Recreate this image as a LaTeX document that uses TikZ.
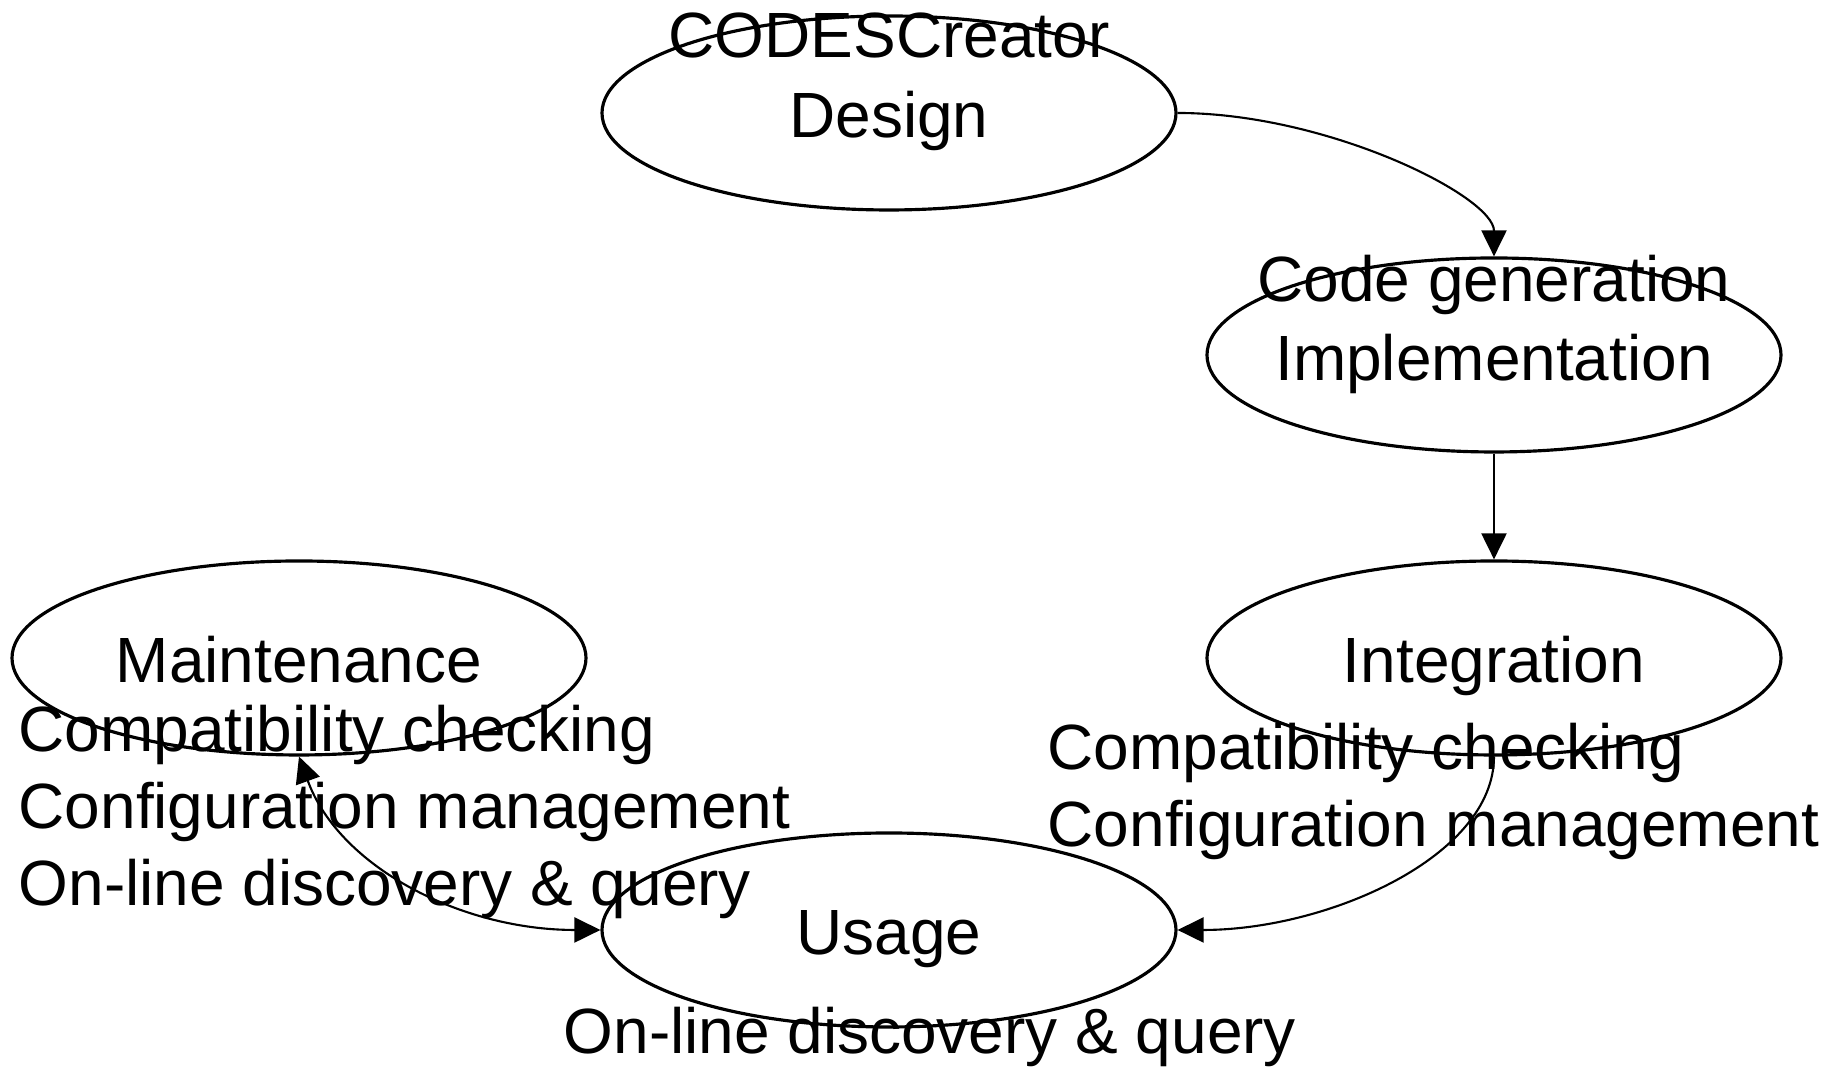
\documentclass[tikz,border=0pt]{standalone}
\usepackage{fontspec}
\setmainfont{Liberation Sans}
\usepackage{tikz}
\usetikzlibrary{arrows.meta, positioning, shapes.geometric}

\begin{document}
\begin{tikzpicture}[
  font=\fontsize{18.2}{21.9}\selectfont,
  stage/.style={draw, ellipse, line width=0.9pt, minimum width=5.74cm,
                minimum height=1.94cm, inner sep=0pt},
  stagetxt/.style={anchor=base, inner sep=0pt},
  tooltxt/.style={anchor=base west, inner sep=0pt},
  arr/.style={-{Triangle[length=2.6mm, width=2.5mm]}, line width=0.6pt},
  darr/.style={{Triangle[length=2.6mm, width=2.5mm]}-{Triangle[length=2.6mm, width=2.5mm]},
               line width=0.6pt}
]
  \useasboundingbox (0,0) rectangle (18.29,10.69);

  \node[stage] (design) at (8.89,9.56) {};
  \node[stage] (impl) at (14.94,7.14) {};
  \node[stage] (integ) at (14.94,4.11) {};
  \node[stage] (maint) at (2.99,4.11) {};
  \node[stage] (usage) at (8.89,1.39) {};

  \node[stagetxt] (designlbl) at ([yshift=-0.25cm]design.center) {Design};
  \node[stagetxt] (creator) at ([yshift=0.55cm]design.center) {CODESCreator};
  \node[stagetxt] (impllbl) at ([yshift=-0.26cm]impl.center) {Implementation};
  \node[stagetxt] (codegen) at ([yshift=0.53cm]impl.center) {Code generation};
  \node[stagetxt] (integlbl) at ([yshift=-0.25cm]integ.center) {Integration};
  \node[stagetxt] (maintlbl) at ([yshift=-0.25cm]maint.center) {Maintenance};
  \node[stagetxt] (usagelbl) at ([yshift=-0.25cm]usage.center) {Usage};

  \node[tooltxt] (mcompat) at (0.18,3.17) {Compatibility checking};
  \node[tooltxt] (mconfig) at (0.18,2.40) {Configuration management};
  \node[tooltxt] (mquery) at (0.18,1.63) {On-line discovery \& query};
  \node[tooltxt] (icompat) at (10.47,2.99) {Compatibility checking};
  \node[tooltxt] (iconfig) at (10.47,2.22) {Configuration management};
  \node[tooltxt] (uquery) at (5.63,0.15) {On-line discovery \& query};

  \draw[arr] (design.east) .. controls +(1.5,0) and +(0,0.6) .. (impl.north);
  \draw[arr] (impl) -- (integ);
  \draw[arr] (integ.south) .. controls +(0,-1.0) and +(1.5,0) .. (usage.east);
  \draw[darr] (maint.south) .. controls +(0.4,-1.1) and +(-1.4,0) .. (usage.west);
\end{tikzpicture}
\end{document}
